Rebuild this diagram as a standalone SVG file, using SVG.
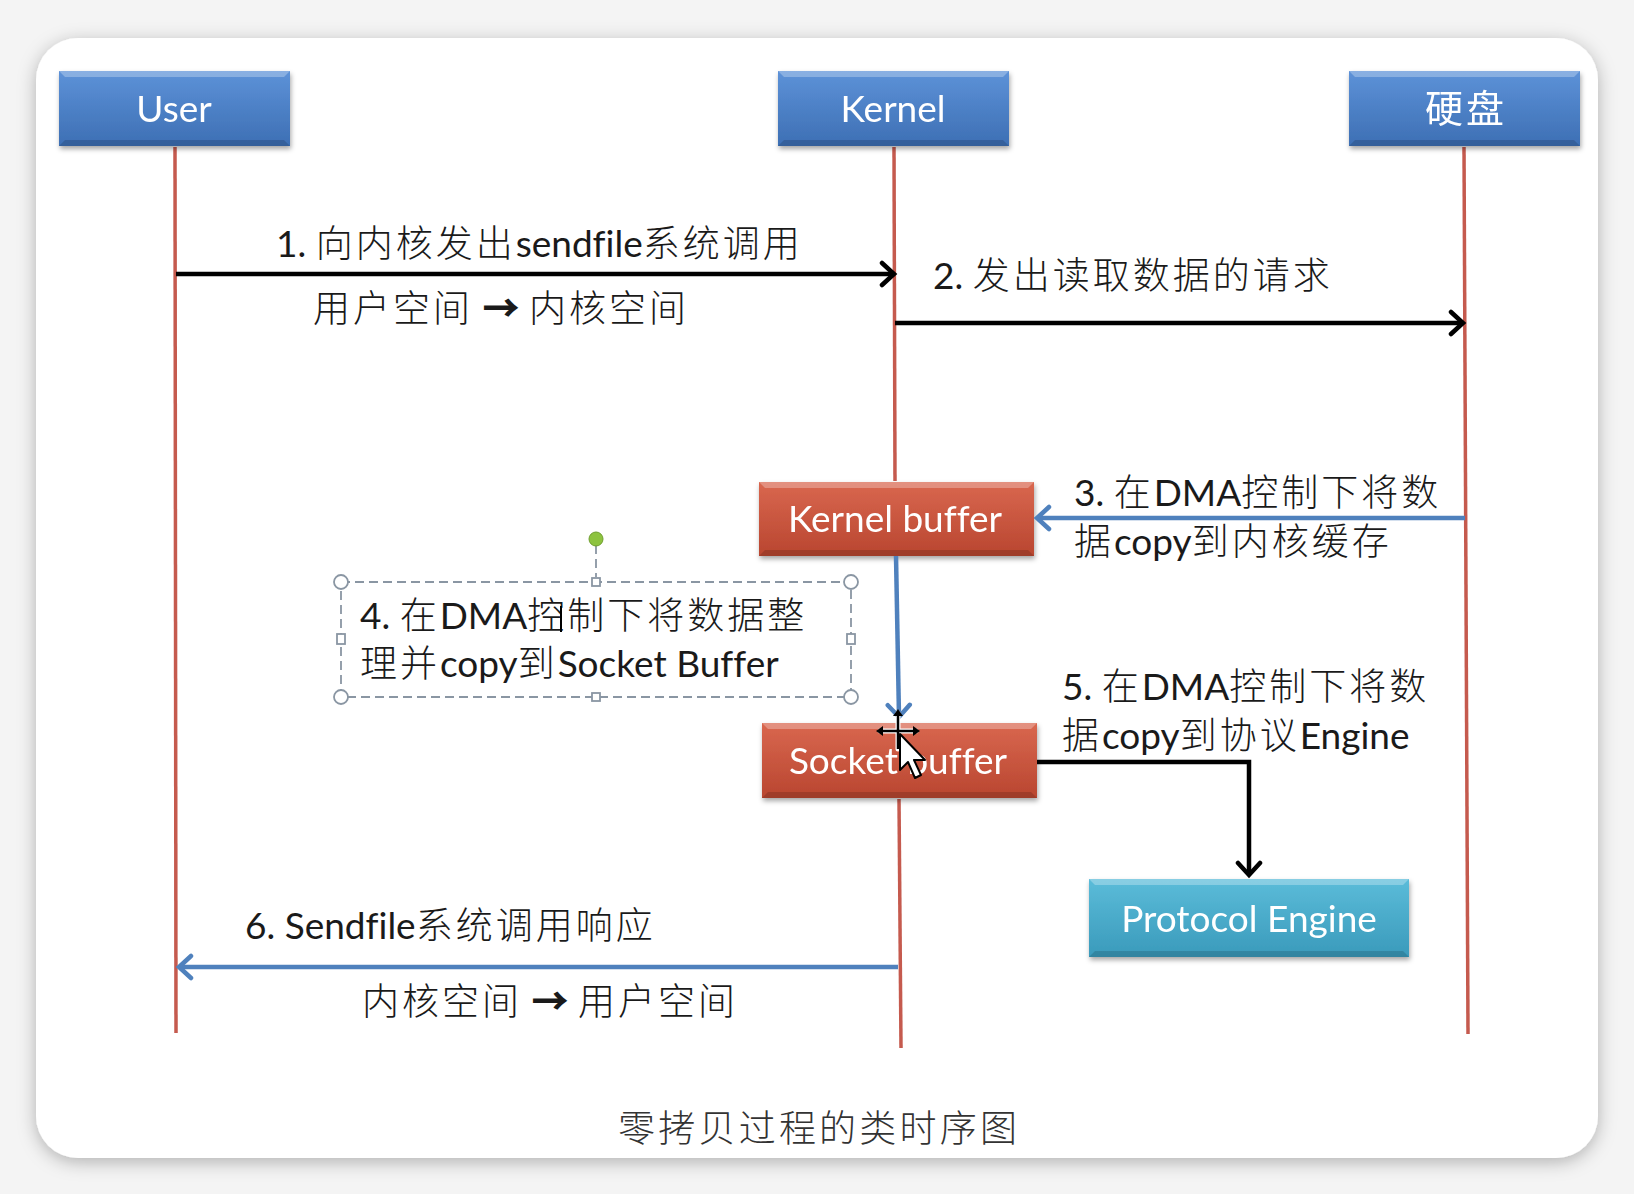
<svg xmlns="http://www.w3.org/2000/svg" width="1634" height="1194" viewBox="0 0 1634 1194">
<style>
  text { font-family: "Lato", "Noto Sans CJK SC", sans-serif; font-variant-ligatures: none; }
  .lbl { font-size: 37px; fill: #1a1a1a; font-weight: 400; }
  .cj { font-family: "Noto Sans CJK SC", sans-serif; font-weight: 300; letter-spacing: 3px; }
  .arr { font-family: "Noto Sans CJK SC", sans-serif; font-weight: 900; }
  .cap { font-family: "Noto Sans CJK SC", sans-serif; font-size: 37px; fill: #333; font-weight: 300; }
  .ntext { font-size: 37px; fill: #ffffff; text-anchor: middle; }
  .cjh { font-family: "Noto Sans CJK SC", sans-serif; font-size: 38px; letter-spacing: 3px; }
  .life { stroke: #c55a4e; stroke-width: 3.5; fill: none; }
  .blk { stroke: #000; stroke-width: 4.5; fill: none; }
  .blu { stroke: #4f81bd; stroke-width: 4.5; fill: none; }
  .hi { fill: #ffffff; opacity: 0.28; }
  .lo { fill: #000000; opacity: 0.14; }
  .sel { stroke: #8a96a3; stroke-width: 1.8; fill: none; stroke-dasharray: 9 5; }
  .hdl { stroke: #8a96a3; stroke-width: 1.8; fill: #fff; }
</style>
<defs>
  <linearGradient id="gBlue" x1="0" y1="0" x2="0" y2="1">
    <stop offset="0" stop-color="#5d92d8"/>
    <stop offset="1" stop-color="#3d6fb4"/>
  </linearGradient>
  <linearGradient id="gRed" x1="0" y1="0" x2="0" y2="1">
    <stop offset="0" stop-color="#d9674f"/>
    <stop offset="1" stop-color="#b94630"/>
  </linearGradient>
  <linearGradient id="gCyan" x1="0" y1="0" x2="0" y2="1">
    <stop offset="0" stop-color="#5bbcd9"/>
    <stop offset="1" stop-color="#3a9abb"/>
  </linearGradient>
  <filter id="cardShadow" x="-5%" y="-5%" width="110%" height="115%">
    <feDropShadow dx="0" dy="4" stdDeviation="9" flood-color="#000" flood-opacity="0.28"/>
  </filter>
  <filter id="boxShadow" x="-10%" y="-20%" width="120%" height="150%">
    <feDropShadow dx="1" dy="3" stdDeviation="2.5" flood-color="#000" flood-opacity="0.35"/>
  </filter>
  <marker id="ahBlack" markerUnits="userSpaceOnUse" markerWidth="20" markerHeight="28" viewBox="0 0 20 28" refX="16" refY="14" orient="auto">
    <path d="M4,3 L16,14 L4,25" fill="none" stroke="#000" stroke-width="4.5" stroke-linecap="round" stroke-linejoin="miter"/>
  </marker>
  <marker id="ahBlue" markerUnits="userSpaceOnUse" markerWidth="20" markerHeight="28" viewBox="0 0 20 28" refX="16" refY="14" orient="auto">
    <path d="M4,3 L16,14 L4,25" fill="none" stroke="#4f81bd" stroke-width="4.5" stroke-linecap="round" stroke-linejoin="miter"/>
  </marker>
</defs>

<!-- page background and card -->
<rect x="0" y="0" width="1634" height="1194" fill="#f4f4f4"/>
<rect x="36" y="38" width="1562" height="1120" rx="42" ry="42" fill="#ffffff" filter="url(#cardShadow)"/>

<!-- lifelines -->
<g id="lifelines">
  <line class="life" x1="175" y1="147" x2="176" y2="1033"/>
  <line class="life" x1="894" y1="147" x2="895" y2="481"/>
  <line class="life" x1="899" y1="799" x2="901" y2="1048"/>
  <line class="life" x1="1464" y1="147" x2="1468" y2="1034"/>
</g>

<!-- nodes -->
<g id="node-user" filter="url(#boxShadow)">
  <rect x="59" y="71" width="231" height="75" fill="url(#gBlue)"/>
  <polygon class="hi" points="59,71 290,71 284,77 65,77"/>
  <polygon class="lo" points="59,146 290,146 284,140 65,140"/>
  <text class="ntext" x="174" y="122">User</text>
</g>
<g id="node-kernel" filter="url(#boxShadow)">
  <rect x="778" y="71" width="231" height="75" fill="url(#gBlue)"/>
  <polygon class="hi" points="778,71 1009,71 1003,77 784,77"/>
  <polygon class="lo" points="778,146 1009,146 1003,140 784,140"/>
  <text class="ntext" x="893" y="122">Kernel</text>
</g>
<g id="node-disk" filter="url(#boxShadow)">
  <rect x="1349" y="71" width="231" height="75" fill="url(#gBlue)"/>
  <polygon class="hi" points="1349,71 1580,71 1574,77 1355,77"/>
  <polygon class="lo" points="1349,146 1580,146 1574,140 1355,140"/>
  <text class="ntext cjh" x="1466" y="122">硬盘</text>
</g>
<g id="node-kernel-buffer" filter="url(#boxShadow)">
  <rect x="759" y="482" width="275" height="74" fill="url(#gRed)"/>
  <polygon class="hi" points="759,482 1034,482 1028,488 765,488"/>
  <polygon class="lo" points="759,556 1034,556 1028,550 765,550"/>
  <text class="ntext" x="895" y="532">Kernel buffer</text>
</g>
<g id="node-socket-buffer" filter="url(#boxShadow)">
  <rect x="762" y="723" width="275" height="75" fill="url(#gRed)"/>
  <polygon class="hi" points="762,723 1037,723 1031,729 768,729"/>
  <polygon class="lo" points="762,798 1037,798 1031,792 768,792"/>
  <text class="ntext" x="898" y="774">Socket buffer</text>
</g>
<g id="node-protocol-engine" filter="url(#boxShadow)">
  <rect x="1089" y="879" width="320" height="78" fill="url(#gCyan)"/>
  <polygon class="hi" points="1089,879 1409,879 1403,885 1095,885"/>
  <polygon class="lo" points="1089,957 1409,957 1403,951 1095,951"/>
  <text class="ntext" x="1249" y="932">Protocol Engine</text>
</g>

<!-- connectors -->
<g id="connectors">
  <line class="blk" x1="176" y1="274" x2="894" y2="274" marker-end="url(#ahBlack)"/>
  <line class="blk" x1="895" y1="323" x2="1463" y2="323" marker-end="url(#ahBlack)"/>
  <line class="blu" x1="1465" y1="518" x2="1037" y2="518" marker-end="url(#ahBlue)"/>
  <line class="blu" x1="896" y1="556" x2="899" y2="717" marker-end="url(#ahBlue)"/>
  <polyline class="blk" points="1037,762 1249,762 1249,875" marker-end="url(#ahBlack)"/>
  <line class="blu" x1="898" y1="967" x2="179" y2="967" marker-end="url(#ahBlue)"/>
</g>

<!-- labels -->
<g id="labels">
  <text class="lbl" x="276" y="257">1. <tspan class="cj">向内核发出</tspan>sendfile<tspan class="cj">系统调用</tspan></text>
  <text class="lbl" x="313" y="322"><tspan class="cj">用户空间</tspan> <tspan class="arr">→</tspan> <tspan class="cj">内核空间</tspan></text>
  <text class="lbl" x="933" y="289">2. <tspan class="cj">发出读取数据的请求</tspan></text>
  <text class="lbl" x="1074" y="506">3. <tspan class="cj">在</tspan>DMA<tspan class="cj">控制下将数</tspan></text>
  <text class="lbl" x="1074" y="555"><tspan class="cj">据</tspan>copy<tspan class="cj">到内核缓存</tspan></text>
  <text class="lbl" x="1062" y="700">5. <tspan class="cj">在</tspan>DMA<tspan class="cj">控制下将数</tspan></text>
  <text class="lbl" x="1062" y="749"><tspan class="cj">据</tspan>copy<tspan class="cj">到协议</tspan>Engine</text>
  <text class="lbl" x="245" y="939">6. Sendfile<tspan class="cj">系统调用响应</tspan></text>
  <text class="lbl" x="362" y="1015"><tspan class="cj">内核空间</tspan> <tspan class="arr">→</tspan> <tspan class="cj">用户空间</tspan></text>
  <text class="cap" x="618" y="1142" textLength="399" lengthAdjust="spacing">零拷贝过程的类时序图</text>
</g>

<!-- selected text box (step 4) -->
<g id="note-step4">
  <line class="sel" x1="596" y1="545" x2="596" y2="577"/>
  <rect class="sel" x="341" y="582" width="510" height="115"/>
  <circle cx="596" cy="539" r="7" fill="#8dc33f" stroke="#6f9e2e" stroke-width="1"/>
  <circle class="hdl" cx="341" cy="582" r="7"/>
  <circle class="hdl" cx="851" cy="582" r="7"/>
  <circle class="hdl" cx="341" cy="697" r="7"/>
  <circle class="hdl" cx="851" cy="697" r="7"/>
  <rect class="hdl" x="592" y="578" width="8" height="8"/>
  <rect class="hdl" x="592" y="693" width="8" height="8"/>
  <rect class="hdl" x="337" y="634" width="8" height="10"/>
  <rect class="hdl" x="847" y="634" width="8" height="10"/>
  <text class="lbl" x="360" y="629">4. <tspan class="cj">在</tspan>DMA<tspan class="cj">控制下将数据整</tspan></text>
  <text class="lbl" x="360" y="677"><tspan class="cj">理并</tspan>copy<tspan class="cj">到</tspan>Socket Buffer</text>
  <line x1="561" y1="606" x2="561" y2="632" stroke="#000" stroke-width="2"/>
</g>

<!-- mouse cursor -->
<g id="cursor">
  <g stroke="#fff" stroke-width="5" fill="none" stroke-linecap="round">
    <line x1="880" y1="731" x2="916" y2="731"/>
    <line x1="898" y1="713" x2="898" y2="749"/>
  </g>
  <g stroke="#000" stroke-width="2.5" fill="none">
    <line x1="880" y1="731" x2="916" y2="731"/>
    <line x1="898" y1="713" x2="898" y2="749"/>
  </g>
  <g fill="#000">
    <polygon points="898,709 893,716 903,716"/>
    <polygon points="876,731 883,726 883,736"/>
    <polygon points="920,731 913,726 913,736"/>
  </g>
  <polygon points="900,734 900,770 908,762 915,778 921,775 914,760 925,760" fill="#fff" stroke="#000" stroke-width="2" stroke-linejoin="round"/>
</g>
</svg>
